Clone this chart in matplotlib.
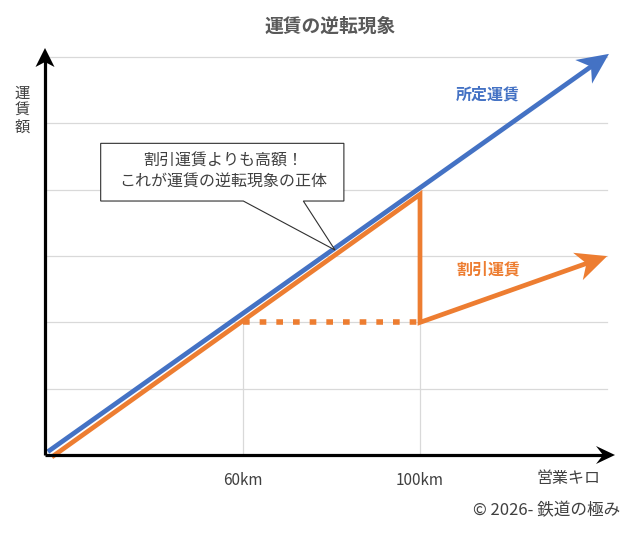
import matplotlib
matplotlib.use('Agg')
import matplotlib.pyplot as plt
from matplotlib.patches import Polygon
import numpy as np

plt.rcParams['font.family'] = ['Noto Sans CJK JP', 'DejaVu Sans']

# schematic data: distance (km) vs fare (grid units)
fixed_km = [15.9, 142.7]
fixed_fare = [0.05, 6.05]
disc_km = [16.8, 100, 100, 142.3]
disc_fare = [-0.03, 3.93, 2.0, 3.0]
flat_km = [60, 100]
flat_fare = [2.0, 2.0]
grid_levels = [1, 2, 3, 4, 5, 6]
tick_km = [60, 100]
tick_labels = ['60km', '100km']
callout_km = 80.8

BLUE = '#4472C4'
ORANGE = '#ED7D31'
GRID = '#d9d9d9'
TXT = '#404040'

W, H = 640, 541
fig = plt.figure(figsize=(W / 100, H / 100), dpi=100)
# axes box in pixels: left 45, right 622, top 40, bottom 455
ax = fig.add_axes([45 / W, (H - 455) / H, 577 / W, 415 / H])
x0, x1 = 60 - 198 / 4.425, 60 + 379 / 4.425
ax.set_xlim(x0, x1)
ax.set_ylim(0, 415 / 66.3)
for s in ax.spines.values():
    s.set_visible(False)
ax.set_yticks([])
ax.set_xticks(tick_km)
ax.set_xticklabels(tick_labels, fontsize=11, color=TXT)
ax.tick_params(axis='x', length=0, pad=12)


def arrow_line(xs, ys, color, lw, length, half_w, notch, zorder, **kw):
    """line through data points, stealth head at the last point (sizes in px)"""
    pts = ax.transData.transform(np.column_stack([xs, ys]))
    tip = pts[-1]
    d = tip - pts[-2]
    d = d / np.hypot(*d)
    n = np.array([-d[1], d[0]])
    back = tip - d * length
    inner = tip - d * (length - notch)
    head = [tip, back + n * half_w, inner, back - n * half_w]
    ax.add_patch(Polygon(head, closed=True, transform=None, facecolor=color,
                         edgecolor='none', zorder=zorder, clip_on=False))
    pts[-1] = inner + d * 1.0
    line = ax.transData.inverted().transform(pts)
    ax.plot(line[:, 0], line[:, 1], color=color, lw=lw, zorder=zorder,
            clip_on=False, solid_capstyle='butt', **kw)


# grid
for g in grid_levels:
    ax.plot([x0 + 0.5, 142.3], [g, g], color=GRID, lw=0.9, zorder=1)
for k in tick_km:
    ax.plot([k, k], [0, flat_fare[0]], color=GRID, lw=0.9, zorder=1)

# axes with arrows
x_end = 60 + (615 - 243) / 4.425
y_end = (455 - 48) / 66.3
arrow_line([x0, x_end], [0, 0], 'black', 2.3, 19, 9, 7, 6)
arrow_line([x0, x0], [0, y_end], 'black', 2.3, 19, 9.5, 5, 6)

# fixed fare
arrow_line(fixed_km, fixed_fare, BLUE, 3.4, 31, 14.5, 9, 4)

# discounted fare
arrow_line(disc_km, disc_fare, ORANGE, 3.4, 31, 14.5, 9, 3, solid_joinstyle='miter')
ax.plot(flat_km, flat_fare, color=ORANGE, lw=4.0, linestyle=(0, (1.2, 1.8)),
        dash_capstyle='butt', zorder=3)

# line labels
ax.text(115.4, 5.44, '所定運賃', color=BLUE, fontsize=11.5, fontweight='bold',
        ha='center', va='center')
ax.text(115.4, 2.8, '割引運賃', color=ORANGE, fontsize=11.5, fontweight='bold',
        ha='center', va='center')

# callout
tip = (callout_km, np.interp(callout_km, fixed_km, fixed_fare) - 0.03)
tip_ax = ax.transAxes.inverted().transform(ax.transData.transform(tip))
bl, br, bb, bt = 0.0965, 0.518, 0.612, 0.751
verts = [(bl, bb), (0.3437, bb), tuple(tip_ax), (0.4477, bb), (br, bb), (br, bt), (bl, bt)]
ax.add_patch(Polygon(verts, closed=True, transform=ax.transAxes, facecolor='white',
                     edgecolor='#303030', lw=0.8, zorder=5, clip_on=False))
ax.text(0.3085, 0.682, '割引運賃よりも高額！\nこれが運賃の逆転現象の正体',
        transform=ax.transAxes, ha='center', va='center', fontsize=11.5,
        color=TXT, linespacing=1.3, zorder=6)

# figure texts
fig.text(330 / W, 1 - 26.5 / H, '運賃の逆転現象', ha='center', va='center',
         fontsize=13.5, fontweight='bold', color='#595959')
fig.text(22 / W, 1 - 110 / H, '運\n賃\n額', ha='center', va='center',
         fontsize=11, color=TXT, linespacing=1.0)
fig.text(568 / W, 1 - 479 / H, '営業キロ', ha='center', va='center',
         fontsize=11.5, color=TXT)
fig.text(620 / W, 1 - 511 / H, '© 2026- 鉄道の極み', ha='right', va='center',
         fontsize=12, color=TXT)

fig.savefig('out.png', dpi=100)
